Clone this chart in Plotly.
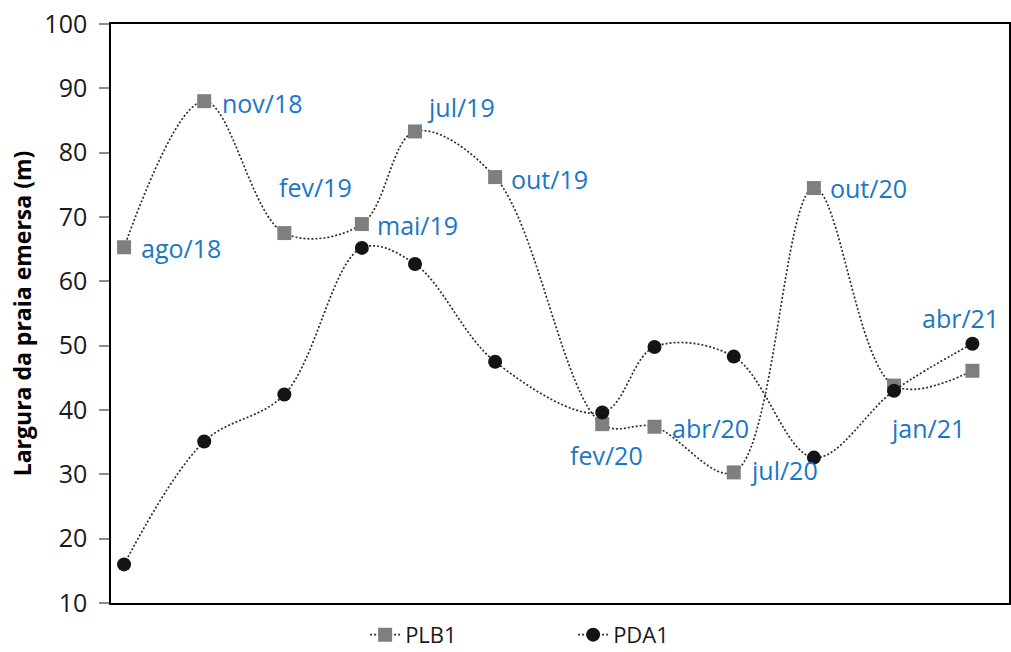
import plotly.graph_objects as go

# Data
dates = ["2018-08-01", "2018-11-01", "2019-02-01", "2019-05-01", "2019-07-01", "2019-10-01",
         "2020-02-01", "2020-04-01", "2020-07-01", "2020-10-01", "2021-01-01", "2021-04-01"]
labels = ["ago/18", "nov/18", "fev/19", "mai/19", "jul/19", "out/19",
          "fev/20", "abr/20", "jul/20", "out/20", "jan/21", "abr/21"]
plb1 = [65.3, 88.0, 67.5, 68.9, 83.3, 76.2, 37.8, 37.4, 30.3, 74.5, 43.8, 46.1]
pda1 = [16.0, 35.1, 42.4, 65.2, 62.7, 47.5, 39.6, 49.8, 48.3, 32.6, 43.0, 50.3]

# label offsets in pixels (xshift, yshift), left-anchored text
label_offsets = [(15, -1), (16, -2), (-7, 46), (13, -1), (10, 24), (14, -2),
                 (-34, -31), (15, -1), (14, 2), (14, 0), (-6, -42), (-52, 53)]

FONT = "Open Sans"
LINE_COLOR = "#2e2e2e"

fig = go.Figure()
fig.add_trace(go.Scatter(
    x=dates, y=plb1, name="PLB1", mode="lines+markers",
    line=dict(color=LINE_COLOR, width=1.7, dash="2px,2px", shape="spline", smoothing=1),
    marker=dict(symbol="square", size=14, color="#7f7f7f"),
))
fig.add_trace(go.Scatter(
    x=dates, y=pda1, name="PDA1", mode="lines+markers",
    line=dict(color=LINE_COLOR, width=1.7, dash="2px,2px", shape="spline", smoothing=1),
    marker=dict(symbol="circle", size=14, color="#141414"),
))

for d, v, lab, (dx, dy) in zip(dates, plb1, labels, label_offsets):
    fig.add_annotation(x=d, y=v, text=lab, showarrow=False, xanchor="left", yanchor="middle",
                       xshift=dx, yshift=dy,
                       font=dict(family=FONT, size=25, color="#1a76c6"))

fig.update_layout(
    width=1011, height=652,
    margin=dict(l=111, r=2, t=24, b=49, autoexpand=False),
    paper_bgcolor="white", plot_bgcolor="white",
    font=dict(family=FONT, color="#1a1a1a"),
    showlegend=True,
    legend=dict(orientation="h", x=0.283, xanchor="left", y=-0.055, yanchor="middle",
                font=dict(family=FONT, size=22, color="#1a1a1a"),
                entrywidth=163, entrywidthmode="pixels", itemwidth=30),
)
fig.update_xaxes(
    type="date", range=["2018-07-17", "2021-05-13"],
    showticklabels=False, ticks="", showgrid=False, zeroline=False,
    showline=True, linecolor="black", linewidth=1.5, mirror=True,
)
fig.update_yaxes(
    range=[10, 100], dtick=10, tick0=10, showgrid=False, zeroline=False,
    showline=True, linecolor="black", linewidth=1.5, mirror=True,
    ticks="outside", ticklen=10, tickcolor="#8c8c8c", tickwidth=1.5,
    ticklabelstandoff=7,
    tickfont=dict(family=FONT, size=25, color="#1a1a1a"),
    title=dict(text="<b>Largura da praia emersa (m)</b>",
               font=dict(family=FONT, size=23, color="#000000"), standoff=6),
)

fig.write_html("out.html")
